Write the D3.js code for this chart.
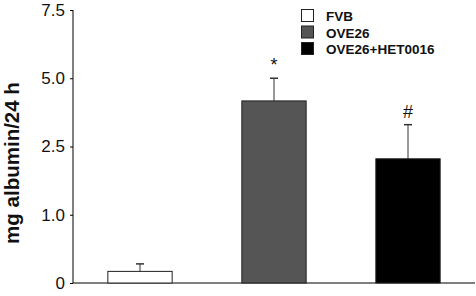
<!DOCTYPE html>
<html>
<head>
<meta charset="utf-8">
<script src="https://cdn.jsdelivr.net/npm/d3@7"></script>
<style>
  body { margin: 0; background: #fff; }
  svg { display: block; font-family: Arial, "Liberation Sans", sans-serif; }
</style>
</head>
<body>
<div id="chart"></div>
<script>
// data
var groups = ["FVB", "OVE26", "OVE26+HET0016"];
var means = [0.17, 4.17, 2.23];
var errors = [0.11, 0.83, 1.07];
var marks = ["", "*", "#"];
var tickValues = [0, 1.0, 2.5, 5.0, 7.5];
var tickLabels = ["0", "1.0", "2.5", "5.0", "7.5"];
var fills = ["#ffffff", "#555555", "#000000"];

var width = 476, height = 296;
var margin = { top: 10, right: 1, bottom: 13, left: 73 };

var svg = d3.select("#chart")
    .append("svg")
    .attr("width", width)
    .attr("height", height);

var x = d3.scaleBand()
    .domain(groups)
    .range([margin.left, width - margin.right])
    .paddingInner(0.52)
    .paddingOuter(0.26);

// the axis is broken: labelled ticks are evenly spaced
var y = d3.scaleLinear()
    .domain(tickValues)
    .range(tickValues.map(function (d, i) {
        return (height - margin.bottom) - i * (height - margin.bottom - margin.top) / (tickValues.length - 1);
    }));

// Y axis
var yAxis = svg.append("g")
    .attr("transform", "translate(" + margin.left + ",0)")
    .call(d3.axisLeft(y)
        .tickValues(tickValues)
        .tickFormat(function (d, i) { return tickLabels[i]; })
        .tickSize(3)
        .tickPadding(5));
yAxis.select(".domain").attr("stroke", "#000").attr("d",
    "M0," + y(7.5) + "V" + y(0));
yAxis.selectAll("text")
    .attr("font-size", 17)
    .attr("font-family", "Arial, 'Liberation Sans', sans-serif")
    .attr("fill", "#111");

// baseline
svg.append("line")
    .attr("x1", margin.left)
    .attr("x2", width - margin.right)
    .attr("y1", y(0))
    .attr("y2", y(0))
    .attr("stroke", "#000");

// y title
svg.append("text")
    .attr("transform", "translate(19," + 163 + ") rotate(-90)")
    .attr("text-anchor", "middle")
    .attr("font-size", 20.5)
    .attr("font-weight", "bold")
    .attr("fill", "#111")
    .text("mg albumin/24 h");

// error bars
var bars = svg.selectAll(".bar")
    .data(groups)
    .enter();

bars.append("line")
    .attr("x1", function (d) { return x(d) + x.bandwidth() / 2; })
    .attr("x2", function (d) { return x(d) + x.bandwidth() / 2; })
    .attr("y1", function (d, i) { return y(means[i]); })
    .attr("y2", function (d, i) { return y(means[i] + errors[i]); })
    .attr("stroke", "#333");

bars.append("line")
    .attr("x1", function (d) { return x(d) + x.bandwidth() / 2 - 4; })
    .attr("x2", function (d) { return x(d) + x.bandwidth() / 2 + 4; })
    .attr("y1", function (d, i) { return y(means[i] + errors[i]); })
    .attr("y2", function (d, i) { return y(means[i] + errors[i]); })
    .attr("stroke", "#333")
    .attr("stroke-width", 1.5);

// bars
bars.append("rect")
    .attr("x", function (d) { return x(d); })
    .attr("y", function (d, i) { return y(means[i]); })
    .attr("width", x.bandwidth())
    .attr("height", function (d, i) { return y(0) - y(means[i]); })
    .attr("fill", function (d, i) { return fills[i]; })
    .attr("stroke", "#222");

// significance marks
bars.append("text")
    .attr("x", function (d) { return x(d) + x.bandwidth() / 2; })
    .attr("y", function (d, i) { return y(means[i] + errors[i]) - 7; })
    .attr("text-anchor", "middle")
    .attr("font-size", 18)
    .attr("fill", "#111")
    .text(function (d, i) { return marks[i]; });

// legend
var legend = svg.append("g")
    .attr("transform", "translate(301,9)");
groups.forEach(function (g, i) {
    legend.append("rect")
        .attr("x", 0.5)
        .attr("y", i * 16.5 + 0.5)
        .attr("width", 12)
        .attr("height", 12)
        .attr("fill", fills[i])
        .attr("stroke", "#222");
    legend.append("text")
        .attr("x", 25)
        .attr("y", i * 16.5 + 12)
        .attr("font-size", 13.5)
        .attr("font-weight", "bold")
        .attr("fill", "#111")
        .text(g);
});
</script>
</body>
</html>
